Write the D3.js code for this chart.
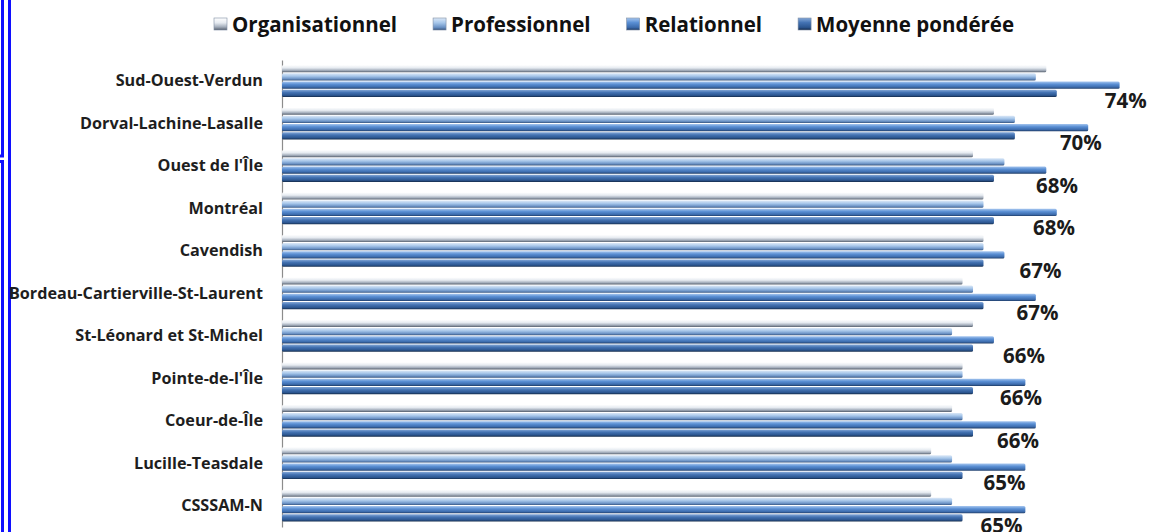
<!DOCTYPE html>
<html>
<head>
<meta charset="utf-8">
<script src="https://cdn.jsdelivr.net/npm/d3@7"></script>
<style>
  body { margin: 0; background: #fff; }
  svg { display: block; }
  text { font-family: "Open Sans", sans-serif; font-weight: bold; }
</style>
</head>
<body>
<div id="chart"></div>
<script>
const width = 1150;
const height = 532;

// données (en %)
const categories = [
  "Sud-Ouest-Verdun", "Dorval-Lachine-Lasalle", "Ouest de l'Île", "Montréal",
  "Cavendish", "Bordeau-Cartierville-St-Laurent", "St-Léonard et St-Michel",
  "Pointe-de-l'Île", "Coeur-de-Île", "Lucille-Teasdale", "CSSSAM-N"
];
const series = ["Organisationnel", "Professionnel", "Relationnel", "Moyenne pondérée"];
const organisationnel = [73, 68, 66, 67, 67, 65, 66, 65, 64, 62, 62];
const professionnel   = [72, 70, 69, 67, 67, 66, 64, 65, 65, 64, 64];
const relationnel     = [80, 77, 73, 74, 69, 72, 68, 71, 72, 71, 71];
const moyenne         = [74, 70, 68, 68, 67, 67, 66, 66, 66, 65, 65];

const values = [organisationnel, professionnel, relationnel, moyenne];

// dégradés "cylindre" façon Excel
const gradients = [
  [["0", "#ffffff"], ["0.4", "#e6ebf1"], ["0.75", "#a2acba"], ["1", "#56606e"]],
  [["0", "#dbe8f7"], ["0.4", "#a6c6ea"], ["0.78", "#6a91c4"], ["1", "#37557f"]],
  [["0", "#a6c6ef"], ["0.38", "#5a8fd4"], ["0.78", "#3c6bac"], ["1", "#1f3c66"]],
  [["0", "#86a9d8"], ["0.38", "#4473b3"], ["0.78", "#2b558f"], ["1", "#142b4a"]]
];

const svg = d3.select("#chart")
  .append("svg")
  .attr("width", width)
  .attr("height", height);

const defs = svg.append("defs");
gradients.forEach((stops, i) => {
  const g = defs.append("linearGradient")
    .attr("id", "grad" + i)
    .attr("x1", 0).attr("y1", 0).attr("x2", 0).attr("y2", 1);
  stops.forEach(s => g.append("stop").attr("offset", s[0]).attr("stop-color", s[1]));
});

// cadres bleus à gauche
svg.append("path")
  .attr("d", "M2.5,0V156H0M0,161.5H2.5V532")
  .attr("fill", "none").attr("stroke", "#1010ff").attr("stroke-width", 3);
svg.append("line")
  .attr("x1", 9.5).attr("x2", 9.5).attr("y1", 0).attr("y2", height)
  .attr("stroke", "#1010ff").attr("stroke-width", 3);

const x = d3.scaleLinear().domain([0, 80]).range([282, 282 + 837.6]);
const y = d3.scaleBand().domain(categories).range([60, 527]);
const inner = d3.scaleBand().domain(series).range([5, 37]).paddingInner(0.12);

// axe vertical
const yAxis = svg.append("g")
  .attr("transform", `translate(${x(0)},0)`)
  .call(d3.axisLeft(y).tickSize(0).tickPadding(19));
yAxis.select(".domain").attr("stroke", "#8c8c8c").attr("stroke-width", 1.2);
yAxis.selectAll("text")
  .attr("fill", "#1e1e1e")
  .style("font-size", "16.2px")
  .style("font-family", "'Open Sans', sans-serif")
  .style("font-weight", "bold");

// barres
const groups = svg.append("g")
  .selectAll("g")
  .data(categories)
  .enter()
  .append("g")
  .attr("transform", d => `translate(0,${y(d)})`);

groups.selectAll("rect")
  .data((d, ci) => series.map((s, si) => ({ s, si, v: values[si][ci] })))
  .enter()
  .append("rect")
  .attr("x", x(0))
  .attr("y", d => inner(d.s))
  .attr("width", d => x(d.v) - x(0))
  .attr("height", inner.bandwidth())
  .attr("rx", 1.5)
  .attr("fill", d => `url(#grad${d.si})`);

// étiquettes de la moyenne
groups.append("text")
  .attr("x", (d, i) => x(moyenne[i]) + 48 - 3 * i)
  .attr("y", 37 + 11)
  .style("font-size", "20.5px")
  .attr("fill", "#1b1b1b")
  .text((d, i) => moyenne[i] + "%");

// légende
const legend = svg.append("g").attr("transform", "translate(214,24)");
let lx = 0;
series.forEach((s, i) => {
  legend.append("rect")
    .attr("x", lx).attr("y", -6).attr("width", 13).attr("height", 12)
    .attr("fill", `url(#grad${i})`)
    .attr("stroke", "#7f8ea3").attr("stroke-width", 0.6);
  const t = legend.append("text")
    .attr("x", lx + 18).attr("y", 7.5)
    .style("font-size", "20.5px")
    .attr("fill", "#111")
    .text(s);
  lx += 18 + t.node().getComputedTextLength() + 36;
});
</script>
</body>
</html>
